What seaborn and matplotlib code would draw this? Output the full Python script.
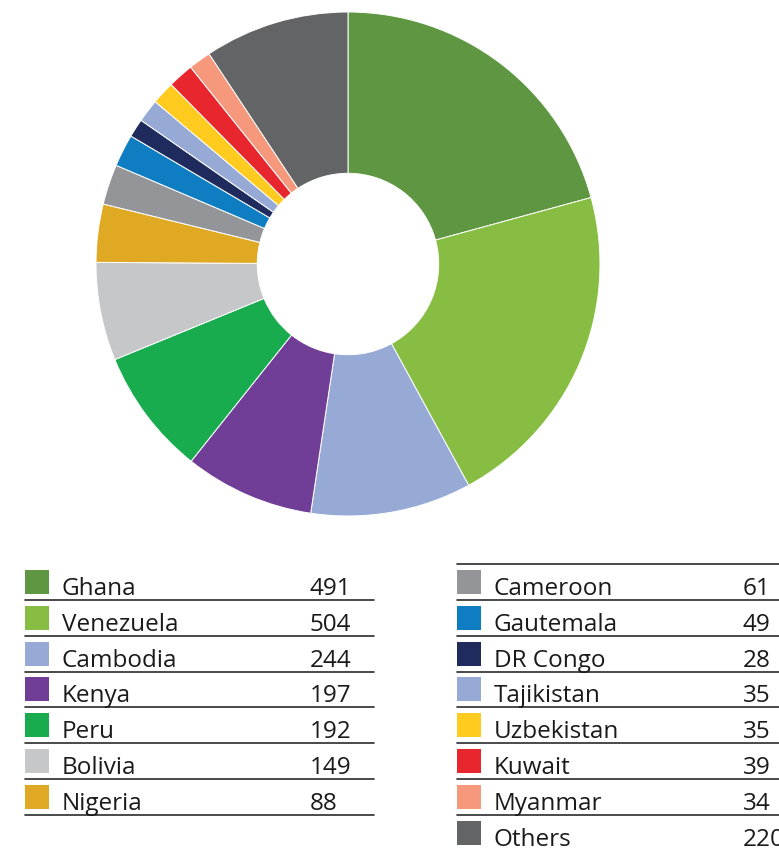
import matplotlib
matplotlib.use("Agg")
import matplotlib.pyplot as plt
from matplotlib.patches import Rectangle
import seaborn as sns

countries = ["Ghana", "Venezuela", "Cambodia", "Kenya", "Peru", "Bolivia", "Nigeria",
             "Cameroon", "Gautemala", "DR Congo", "Tajikistan", "Uzbekistan", "Kuwait",
             "Myanmar", "Others"]
values = [491, 504, 244, 197, 192, 149, 88, 61, 49, 28, 35, 35, 39, 34, 220]
colors = ["#5E9642", "#88BD43", "#97AAD6", "#703E97", "#19AC4E", "#C6C7C9", "#E0A924",
          "#939598", "#0F7DC2", "#1F2B5C", "#97AAD6", "#FFCB1F", "#E8262D", "#F6987C",
          "#636466"]

sns.set_theme(style="white")
plt.rcParams["font.family"] = ["Open Sans", "DejaVu Sans"]
palette = sns.color_palette(colors)

W, H = 779, 848
fig = plt.figure(figsize=(W / 100, H / 100), dpi=100)

cx, cy, R = 348, 264, 252
ax = fig.add_axes([(cx - R) / W, (H - cy - R) / H, 2 * R / W, 2 * R / H])
ax.pie(values, colors=palette, startangle=90, counterclock=False, radius=1,
       wedgeprops=dict(width=0.64, edgecolor="white", linewidth=0.7))
ax.set_xlim(-1, 1)
ax.set_ylim(-1, 1)
ax.set_aspect("equal")
ax.axis("off")

# legend overlay in pixel coordinates
lg = fig.add_axes([0, 0, 1, 1])
lg.set_xlim(0, W)
lg.set_ylim(H, 0)
lg.axis("off")
lg.patch.set_alpha(0)

row_h = 35.8
fs = 17.5
line_col = "#2b2b2b"

def column(names, vals, cols, x0, x_text, x_val, x_end, y0, top_line):
    if top_line:
        lg.plot([x0, x_end], [y0 - 6, y0 - 6], color=line_col, lw=1.2, clip_on=False)
    for i, (n, v, c) in enumerate(zip(names, vals, cols)):
        yt = y0 + i * row_h
        lg.add_patch(Rectangle((x0, yt), 24, 24, color=c, lw=0))
        lg.text(x_text, yt + 25, n, fontsize=fs, color="#1a1a1a", va="baseline", ha="left")
        lg.text(x_val, yt + 25, str(v), fontsize=fs, color="#1a1a1a", va="baseline", ha="left")
        ly = yt + 30
        lg.plot([x0, x_end], [ly, ly], color=line_col, lw=1.2, clip_on=False)

column(countries[:7], values[:7], colors[:7], 25, 62, 310, 374, 570, False)
column(countries[7:], values[7:], colors[7:], 457, 494, 743, 800, 570, True)

fig.savefig("out.png", dpi=100, facecolor="white")
